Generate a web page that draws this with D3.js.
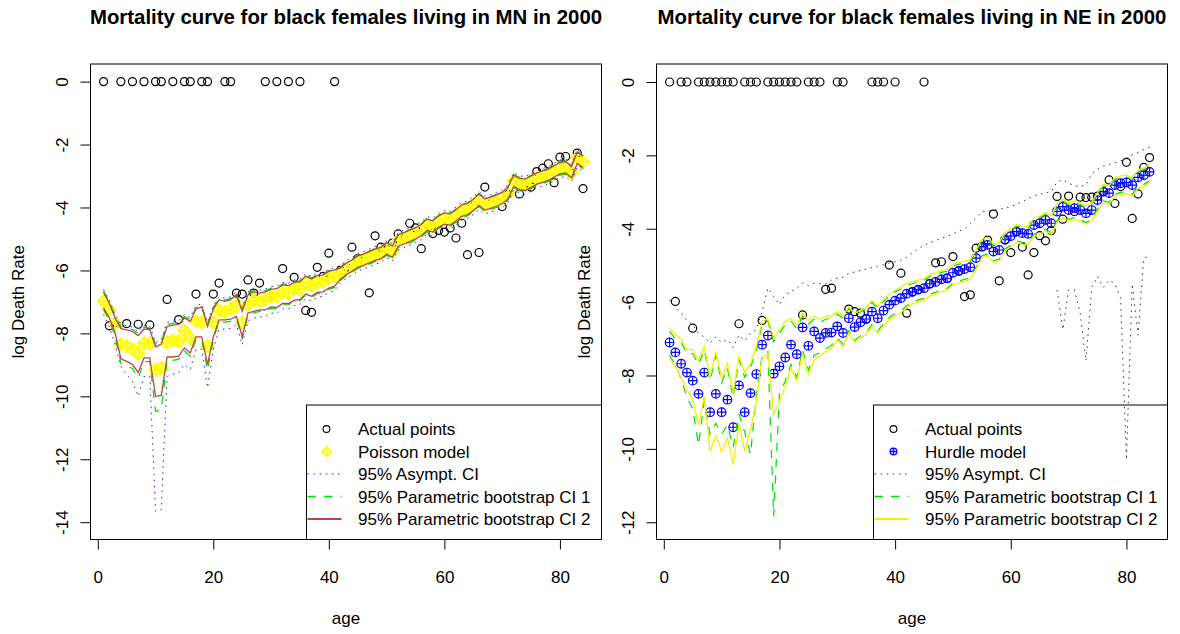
<!DOCTYPE html>
<html>
<head>
<meta charset="utf-8">
<script src="https://cdn.jsdelivr.net/npm/d3@7"></script>
<style>
  html, body { margin: 0; padding: 0; background: #ffffff; }
  svg { display: block; font-family: "Liberation Sans", Arial, Helvetica, sans-serif; }
</style>
</head>
<body>
<svg id="chart" width="1180" height="634"></svg>
<script>
// ---- ages (x categories) ----
const ages = [1,2,3,4,5,6,7,8,9,10,11,12,13,14,15,16,17,18,19,20,
  21,22,23,24,25,26,27,28,29,30,31,32,33,34,35,36,37,38,39,40,
  41,42,43,44,45,46,47,48,49,50,51,52,53,54,55,56,57,58,59,60,
  61,62,63,64,65,66,67,68,69,70,71,72,73,74,75,76,77,78,79,80,
  81,82,83,84];

const xTicks = [0, 20, 40, 60, 80];
const mnYTicks = [0, -2, -4, -6, -8, -10, -12, -14];
const neYTicks = [0, -2, -4, -6, -8, -10, -12];

// ---- Minnesota: observed log death rates (0 = no deaths recorded) ----
const mnActual = [0,-7.76,-7.67,0,-7.69,0,-7.71,0,-7.73,0,
  0,-6.92,0,-7.56,0,0,-6.75,0,0,-6.75,
  -6.40,0,0,-6.72,-6.75,-6.30,-6.72,-6.40,0,-6.83,
  0,-5.94,0,-6.22,0,-7.27,-7.33,-5.90,-6.19,-5.45,
  0,-6.00,-5.90,-5.26,-5.62,-5.68,-6.71,-4.90,-5.26,-5.32,
  -5.13,-4.84,-5.00,-4.50,-4.65,-5.31,-4.52,-4.83,-4.73,-4.78,
  -4.65,-4.97,-4.50,-5.50,-3.94,-5.43,-3.35,-3.88,-3.80,-3.97,
  -3.58,-3.16,-3.57,-3.30,-3.35,-2.86,-2.75,-2.61,-3.21,-2.40,
  -2.38,-2.91,-2.27,-3.40];

// Poisson model fit
const mnFit = [-6.98,-7.25,-7.69,-8.34,-8.41,-8.50,-8.64,-8.31,-8.33,-9.17,
  -9.10,-8.29,-8.22,-8.25,-7.91,-8.15,-7.62,-7.65,-8.41,-7.65,
  -7.27,-7.31,-7.23,-7.12,-7.65,-7.09,-6.95,-6.98,-6.93,-6.83,
  -6.83,-6.70,-6.72,-6.59,-6.59,-6.40,-6.49,-6.38,-6.35,-6.24,
  -6.19,-6.10,-5.95,-5.85,-5.72,-5.66,-5.58,-5.50,-5.45,-5.30,
  -5.40,-5.05,-4.98,-4.90,-4.82,-4.72,-4.55,-4.60,-4.45,-4.35,
  -4.38,-4.25,-4.10,-4.05,-3.92,-3.75,-3.90,-3.85,-3.78,-3.70,
  -3.55,-3.15,-3.25,-3.28,-3.18,-3.08,-3.02,-2.96,-2.85,-2.75,
  -2.72,-2.88,-2.42,-2.55];

// 95% asymptotic CI
const mnAsymHi = [-6.60,-6.95,-7.40,-7.70,-7.76,-7.80,-7.95,-7.74,-7.76,-8.30,
  -8.20,-7.65,-7.62,-7.60,-7.40,-7.50,-7.12,-7.06,-7.65,-7.12,
  -6.84,-6.88,-6.84,-6.68,-7.18,-6.69,-6.60,-6.63,-6.59,-6.52,
  -6.50,-6.38,-6.40,-6.30,-6.28,-6.10,-6.19,-6.08,-6.06,-5.96,
  -5.91,-5.84,-5.69,-5.59,-5.46,-5.40,-5.32,-5.24,-5.19,-5.04,
  -5.14,-4.79,-4.72,-4.64,-4.56,-4.46,-4.29,-4.34,-4.19,-4.09,
  -4.12,-3.99,-3.84,-3.79,-3.66,-3.49,-3.64,-3.59,-3.52,-3.44,
  -3.29,-2.89,-2.99,-3.02,-2.92,-2.82,-2.76,-2.70,-2.59,-2.49,
  -2.46,-2.62,-2.16,-2.29];
const mnAsymLo = [-7.40,-7.80,-8.35,-9.05,-9.30,-9.52,-10.00,-9.37,-9.37,-13.65,
  -13.60,-9.37,-9.30,-9.25,-8.99,-9.15,-8.52,-8.50,-9.73,-8.50,
  -7.88,-7.86,-7.84,-7.72,-8.36,-7.60,-7.52,-7.48,-7.46,-7.36,
  -7.36,-7.22,-7.22,-7.12,-7.08,-6.90,-6.97,-6.85,-6.82,-6.70,
  -6.64,-6.40,-6.25,-6.15,-6.02,-5.96,-5.88,-5.80,-5.75,-5.60,
  -5.70,-5.35,-5.28,-5.20,-5.12,-5.02,-4.85,-4.90,-4.75,-4.65,
  -4.68,-4.55,-4.40,-4.35,-4.22,-4.05,-4.20,-4.15,-4.08,-4.00,
  -3.85,-3.45,-3.55,-3.58,-3.48,-3.38,-3.32,-3.26,-3.15,-3.05,
  -3.02,-3.18,-2.72,-2.85];

// 95% parametric bootstrap CI 1
const mnBoot1Hi = [-6.65,-7.00,-7.45,-7.78,-7.83,-7.88,-8.00,-7.80,-7.83,-8.35,
  -8.26,-7.72,-7.68,-7.66,-7.46,-7.56,-7.18,-7.11,-7.72,-7.18,
  -6.89,-6.94,-6.89,-6.73,-7.25,-6.74,-6.64,-6.68,-6.64,-6.57,
  -6.55,-6.43,-6.45,-6.35,-6.33,-6.15,-6.24,-6.13,-6.11,-6.00,
  -5.95,-5.90,-5.75,-5.65,-5.52,-5.46,-5.38,-5.30,-5.25,-5.10,
  -5.20,-4.85,-4.78,-4.70,-4.62,-4.52,-4.35,-4.40,-4.25,-4.15,
  -4.18,-4.05,-3.90,-3.85,-3.72,-3.55,-3.70,-3.65,-3.58,-3.50,
  -3.35,-2.95,-3.05,-3.08,-2.98,-2.88,-2.82,-2.76,-2.65,-2.55,
  -2.52,-2.68,-2.22,-2.35];
const mnBoot1Lo = [-7.25,-7.60,-8.10,-8.95,-9.02,-9.12,-9.42,-8.90,-8.90,-10.48,
  -10.42,-8.86,-8.86,-8.82,-8.55,-8.72,-8.20,-8.20,-9.17,-8.20,
  -7.64,-7.64,-7.62,-7.52,-8.18,-7.40,-7.35,-7.30,-7.30,-7.20,
  -7.22,-7.09,-7.09,-6.99,-6.96,-6.79,-6.86,-6.74,-6.72,-6.60,
  -6.54,-6.32,-6.17,-6.07,-5.94,-5.88,-5.80,-5.72,-5.67,-5.52,
  -5.62,-5.27,-5.20,-5.12,-5.04,-4.94,-4.77,-4.82,-4.67,-4.57,
  -4.60,-4.47,-4.32,-4.27,-4.14,-3.97,-4.12,-4.07,-4.00,-3.92,
  -3.77,-3.37,-3.47,-3.50,-3.40,-3.30,-3.24,-3.18,-3.07,-2.97,
  -2.94,-3.10,-2.64,-2.77];

// 95% parametric bootstrap CI 2
const mnBoot2Hi = [-6.70,-7.04,-7.51,-7.85,-7.89,-7.94,-8.07,-7.86,-7.89,-8.43,
  -8.34,-7.78,-7.74,-7.72,-7.51,-7.62,-7.23,-7.16,-7.78,-7.23,
  -6.93,-6.98,-6.93,-6.77,-7.30,-6.78,-6.68,-6.72,-6.68,-6.60,
  -6.58,-6.46,-6.48,-6.38,-6.36,-6.18,-6.27,-6.16,-6.14,-6.03,
  -5.98,-5.92,-5.77,-5.67,-5.54,-5.48,-5.40,-5.32,-5.27,-5.12,
  -5.22,-4.87,-4.80,-4.72,-4.64,-4.54,-4.37,-4.42,-4.27,-4.17,
  -4.20,-4.07,-3.92,-3.87,-3.74,-3.57,-3.72,-3.67,-3.60,-3.52,
  -3.37,-2.97,-3.07,-3.10,-3.00,-2.90,-2.84,-2.78,-2.67,-2.57,
  -2.54,-2.70,-2.24,-2.37];
const mnBoot2Lo = [-7.19,-7.51,-7.99,-8.81,-8.89,-8.99,-9.24,-8.78,-8.78,-10.00,
  -9.97,-8.75,-8.75,-8.72,-8.46,-8.62,-8.11,-8.11,-8.99,-8.11,
  -7.57,-7.57,-7.55,-7.46,-8.10,-7.35,-7.30,-7.25,-7.25,-7.16,
  -7.18,-7.05,-7.05,-6.95,-6.92,-6.75,-6.82,-6.70,-6.68,-6.56,
  -6.50,-6.28,-6.13,-6.03,-5.90,-5.84,-5.76,-5.68,-5.63,-5.48,
  -5.58,-5.23,-5.16,-5.08,-5.00,-4.90,-4.73,-4.78,-4.63,-4.53,
  -4.56,-4.43,-4.28,-4.23,-4.10,-3.93,-4.08,-4.03,-3.96,-3.88,
  -3.73,-3.33,-3.43,-3.46,-3.36,-3.26,-3.20,-3.14,-3.03,-2.93,
  -2.90,-3.06,-2.60,-2.73];

// ---- Nebraska: observed log death rates (0 = no deaths recorded) ----
const neActual = [0,-5.98,0,0,-6.71,0,0,0,0,0,
  0,0,-6.59,0,0,0,-6.50,0,0,0,
  0,0,0,-6.35,0,0,0,-5.65,-5.62,0,
  0,-6.19,-6.26,-6.30,-6.46,0,0,0,-4.99,0,
  -5.21,-6.30,-5.72,-5.66,0,-5.50,-4.93,-4.90,-5.35,-4.76,
  -5.15,-5.85,-5.80,-4.53,-4.49,-4.31,-3.60,-5.42,-4.30,-4.65,
  -4.08,-4.50,-5.26,-4.65,-4.19,-4.33,-4.05,-3.12,-3.74,-3.11,
  -3.53,-3.14,-3.15,-3.14,-3.11,-2.99,-2.67,-3.31,-2.85,-2.19,
  -3.72,-3.05,-2.33,-2.06];

// Hurdle model fit
const neFit = [-7.10,-7.37,-7.68,-7.92,-8.14,-8.50,-7.92,-9.00,-8.50,-9.00,
  -8.66,-9.41,-8.27,-9.00,-8.48,-7.96,-7.16,-6.91,-7.95,-7.75,
  -7.51,-7.16,-7.42,-6.69,-7.19,-6.80,-6.98,-6.84,-6.83,-6.66,
  -6.84,-6.44,-6.68,-6.55,-6.46,-6.26,-6.44,-6.23,-6.07,-5.96,
  -5.89,-5.77,-5.72,-5.66,-5.62,-5.50,-5.45,-5.38,-5.35,-5.20,
  -5.15,-5.10,-5.05,-4.80,-4.49,-4.44,-4.62,-4.58,-4.30,-4.20,
  -4.08,-4.12,-4.14,-3.90,-3.85,-3.76,-3.85,-3.53,-3.40,-3.49,
  -3.44,-3.49,-3.58,-3.49,-3.22,-2.99,-3.03,-2.81,-2.76,-2.74,
  -2.81,-2.60,-2.54,-2.45];

// 95% asymptotic CI (lower bound undefined below age 68)
const neAsymHi = [-5.94,-6.15,-6.30,-6.50,-6.62,-6.85,-6.95,-7.12,-6.95,-7.10,
  -7.02,-7.24,-6.90,-7.05,-6.85,-6.75,-6.25,-5.62,-5.85,-6.07,
  -5.80,-5.71,-5.62,-5.48,-5.55,-5.48,-5.50,-5.50,-5.40,-5.35,
  -5.32,-5.21,-5.18,-5.14,-5.10,-5.06,-5.02,-4.98,-4.94,-4.90,
  -4.86,-4.78,-4.65,-4.55,-4.45,-4.38,-4.32,-4.26,-4.21,-4.14,
  -4.07,-4.00,-3.85,-3.70,-3.54,-3.52,-3.50,-3.47,-3.43,-3.40,
  -3.33,-3.26,-3.18,-3.10,-3.06,-3.02,-2.99,-2.72,-2.67,-2.76,
  -2.83,-2.85,-2.81,-2.50,-2.38,-2.30,-2.25,-2.20,-2.15,-2.08,
  -1.99,-1.92,-1.84,-1.78];
const neAsymLo = [null,null,null,null,null,null,null,null,null,null,
  null,null,null,null,null,null,null,null,null,null,
  null,null,null,null,null,null,null,null,null,null,
  null,null,null,null,null,null,null,null,null,null,
  null,null,null,null,null,null,null,null,null,null,
  null,null,null,null,null,null,null,null,null,null,
  null,null,null,null,null,null,null,-5.67,-6.75,-5.67,
  -5.67,-6.30,-7.60,-5.60,-5.30,-5.60,-5.40,-5.50,-5.90,-10.30,
  -5.50,-6.90,-4.80,-4.75];

// 95% parametric bootstrap CI 1
const neBoot1Hi = [-6.80,-7.00,-7.10,-7.40,-7.40,-7.70,-7.30,-8.15,-7.45,-8.20,
  -7.80,-8.60,-7.56,-8.05,-7.78,-7.32,-6.62,-6.52,-7.08,-6.85,
  -6.62,-6.52,-6.72,-6.38,-6.60,-6.46,-6.56,-6.46,-6.46,-6.33,
  -6.44,-6.17,-6.36,-6.27,-6.19,-6.01,-6.17,-5.98,-5.83,-5.72,
  -5.65,-5.53,-5.50,-5.45,-5.41,-5.30,-5.25,-5.19,-5.16,-5.02,
  -4.97,-4.93,-4.89,-4.63,-4.33,-4.28,-4.46,-4.42,-4.15,-4.05,
  -3.93,-3.97,-3.99,-3.75,-3.70,-3.61,-3.70,-3.38,-3.25,-3.34,
  -3.29,-3.34,-3.43,-3.34,-3.07,-2.84,-2.88,-2.66,-2.61,-2.59,
  -2.66,-2.45,-2.39,-2.30];
const neBoot1Lo = [-7.45,-7.70,-8.10,-8.60,-8.90,-9.89,-8.70,-9.60,-9.30,-9.60,
  -9.35,-9.95,-9.05,-9.55,-10.15,-8.55,-7.45,-7.35,-11.84,-8.50,
  -8.15,-7.70,-8.05,-7.30,-7.85,-7.45,-7.38,-7.28,-7.18,-6.98,
  -7.15,-6.78,-7.04,-6.92,-6.82,-6.61,-6.79,-6.58,-6.42,-6.31,
  -6.23,-6.10,-6.00,-5.94,-5.90,-5.78,-5.73,-5.66,-5.63,-5.48,
  -5.43,-5.38,-5.33,-5.05,-4.74,-4.69,-4.87,-4.83,-4.55,-4.45,
  -4.33,-4.37,-4.39,-4.15,-4.10,-4.01,-4.10,-3.78,-3.65,-3.74,
  -3.69,-3.74,-3.83,-3.74,-3.47,-3.24,-3.28,-3.06,-3.01,-2.99,
  -3.06,-2.85,-2.79,-2.70];

// 95% parametric bootstrap CI 2
const neBoot2Hi = [-6.71,-6.89,-7.00,-7.30,-7.28,-7.59,-7.21,-8.03,-7.35,-8.07,
  -7.66,-8.48,-7.46,-7.93,-7.66,-7.21,-6.53,-6.44,-6.98,-6.75,
  -6.53,-6.44,-6.62,-6.30,-6.50,-6.38,-6.48,-6.38,-6.38,-6.26,
  -6.38,-6.12,-6.30,-6.22,-6.14,-5.96,-6.12,-5.93,-5.78,-5.67,
  -5.60,-5.48,-5.45,-5.40,-5.36,-5.25,-5.20,-5.14,-5.11,-4.97,
  -4.92,-4.88,-4.84,-4.58,-4.28,-4.23,-4.41,-4.37,-4.10,-4.00,
  -3.88,-3.92,-3.94,-3.70,-3.65,-3.56,-3.65,-3.33,-3.20,-3.29,
  -3.24,-3.29,-3.38,-3.29,-3.02,-2.79,-2.83,-2.61,-2.56,-2.54,
  -2.61,-2.40,-2.34,-2.25];
const neBoot2Lo = [-7.53,-7.75,-8.05,-8.39,-8.64,-9.34,-8.57,-10.07,-9.64,-10.07,
  -9.70,-10.43,-9.30,-10.07,-9.48,-8.71,-7.53,-7.41,-9.07,-8.71,
  -8.30,-7.80,-8.16,-7.39,-7.98,-7.57,-7.46,-7.35,-7.25,-7.03,
  -7.22,-6.84,-7.10,-6.98,-6.88,-6.67,-6.85,-6.64,-6.48,-6.37,
  -6.29,-6.16,-6.05,-5.99,-5.95,-5.83,-5.78,-5.71,-5.68,-5.53,
  -5.48,-5.43,-5.38,-5.10,-4.79,-4.74,-4.92,-4.88,-4.60,-4.50,
  -4.38,-4.42,-4.44,-4.20,-4.15,-4.06,-4.15,-3.83,-3.70,-3.79,
  -3.74,-3.79,-3.88,-3.79,-3.52,-3.29,-3.33,-3.11,-3.06,-3.04,
  -3.11,-2.90,-2.84,-2.75];

// ---- drawing ----
const svg = d3.select("#chart");
const FONT = 17;
const DOT = "1.5,4.6";
const DASH = "8.5,8";

// point glyphs
function diamondPlus(cx, cy, s) {
  return `M${cx - s},${cy}L${cx},${cy - s}L${cx + s},${cy}L${cx},${cy + s}Z` +
         `M${cx - s},${cy}H${cx + s}M${cx},${cy - s}V${cy + s}`;
}
function crossIn(cx, cy, r) {
  return `M${cx - r},${cy}H${cx + r}M${cx},${cy - r}V${cy + r}`;
}
function drawGlyph(g, kind, cx, cy, color, size, sw) {
  if (kind === "circle") {
    g.append("circle").attr("cx", cx).attr("cy", cy).attr("r", size)
      .attr("fill", "none").attr("stroke", color).attr("stroke-width", sw);
  } else if (kind === "diamondPlus") {
    g.append("path").attr("d", diamondPlus(cx, cy, size))
      .attr("fill", "none").attr("stroke", color).attr("stroke-width", sw)
      .attr("stroke-linejoin", "miter");
  } else if (kind === "circlePlus") {
    g.append("circle").attr("cx", cx).attr("cy", cy).attr("r", size)
      .attr("fill", "none").attr("stroke", color).attr("stroke-width", sw);
    g.append("path").attr("d", crossIn(cx, cy, size))
      .attr("fill", "none").attr("stroke", color).attr("stroke-width", sw);
  }
}

function drawPanel(p, idx) {
  const g = svg.append("g");
  const x = d3.scaleLinear().domain(p.xDomain).range(p.xRange);
  const y = d3.scaleLinear().domain(p.yDomain).range([64, 539.5]);
  const [x0, x1] = p.xRange;

  // title
  g.append("text")
    .attr("x", (x0 + x1) / 2).attr("y", 24)
    .attr("text-anchor", "middle")
    .attr("font-weight", "bold").attr("font-size", 20.4)
    .text(p.title);

  // axes
  const xAxis = d3.axisBottom(x).tickValues(xTicks).tickSize(10).tickFormat(d => String(d));
  const gx = g.append("g").attr("transform", "translate(0,539.5)").call(xAxis);
  gx.select(".domain").attr("d", `M${x(xTicks[0])},0H${x(xTicks[xTicks.length - 1])}`);
  gx.selectAll("text").attr("y", 43.5).attr("dy", 0)
    .attr("font-size", FONT).attr("font-family", null).attr("fill", "#000");

  const yAxis = d3.axisLeft(y).tickValues(p.yTicks).tickSize(10).tickFormat(d => String(d));
  const gy = g.append("g").attr("transform", `translate(${x0},0)`).call(yAxis);
  gy.select(".domain").attr("d", `M0,${y(p.yTicks[0])}V${y(p.yTicks[p.yTicks.length - 1])}`);
  gy.selectAll("text")
    .attr("x", null).attr("dy", null)
    .attr("text-anchor", "middle")
    .attr("transform", "translate(-23,0) rotate(-90)")
    .attr("font-size", FONT).attr("font-family", null).attr("fill", "#000");
  g.selectAll(".tick line").attr("stroke", "#000");
  g.selectAll(".domain").attr("stroke", "#000");

  // axis titles
  g.append("text")
    .attr("x", (x0 + x1) / 2).attr("y", 624)
    .attr("text-anchor", "middle").attr("font-size", FONT)
    .text("age");
  g.append("text")
    .attr("transform", `translate(${x0 - 67},${(64 + 539.5) / 2}) rotate(-90)`)
    .attr("text-anchor", "middle").attr("font-size", FONT)
    .text("log Death Rate");

  // clip to plot region
  const clipId = "clip" + idx;
  svg.append("clipPath").attr("id", clipId)
    .append("rect").attr("x", x0).attr("y", 64).attr("width", x1 - x0).attr("height", 539.5 - 64);
  const plot = g.append("g").attr("clip-path", `url(#${clipId})`);

  // observed points
  ages.forEach((a, i) => {
    const v = p.actual[i];
    if (v !== null) drawGlyph(plot, "circle", x(a), y(v), "#000", 4, 1.2);
  });
  // fitted points
  ages.forEach((a, i) => {
    drawGlyph(plot, p.fitGlyph, x(a), y(p.fit[i]), p.fitColor, p.fitSize, p.fitStroke);
  });

  // interval lines
  const line = d3.line()
    .defined(d => d[1] !== null)
    .x(d => x(d[0])).y(d => y(d[1]));
  p.bands.forEach(b => {
    [b.hi, b.lo].forEach(arr => {
      plot.append("path")
        .datum(ages.map((a, i) => [a, arr[i]]))
        .attr("d", line)
        .attr("fill", "none")
        .attr("stroke", b.color)
        .attr("stroke-width", b.width)
        .attr("stroke-dasharray", b.dash);
    });
  });

  // plot box
  g.append("rect")
    .attr("x", x0).attr("y", 64).attr("width", x1 - x0).attr("height", 539.5 - 64)
    .attr("fill", "none").attr("stroke", "#000").attr("stroke-width", 1);

  // legend
  const lg = g.append("g");
  const lx = p.legendX;
  lg.append("rect")
    .attr("x", lx).attr("y", 405).attr("width", x1 - lx).attr("height", 539.5 - 405)
    .attr("fill", "none").attr("stroke", "#000").attr("stroke-width", 1);
  const rows = [429, 451.5, 474, 496.5, 519];
  const symX = lx + 20;
  const txtX = lx + 51.5;
  const entries = [
    { label: "Actual points", glyph: "circle", color: "#000", size: 3.4, sw: 1.1 },
    { label: p.fitLabel, glyph: p.fitGlyph, color: p.fitColor, size: p.legendFitSize, sw: 1.3 }
  ].concat(p.bands.map(b => ({ label: b.label, band: b })));
  entries.forEach((e, i) => {
    const cy = rows[i];
    if (e.band) {
      lg.append("line")
        .attr("x1", lx + 1).attr("x2", lx + 35).attr("y1", cy).attr("y2", cy)
        .attr("stroke", e.band.color).attr("stroke-width", e.band.legendWidth)
        .attr("stroke-dasharray", e.band.dash);
    } else {
      drawGlyph(lg, e.glyph, symX, cy, e.color, e.size, e.sw);
    }
    lg.append("text")
      .attr("x", txtX).attr("y", cy + 6)
      .attr("font-size", FONT)
      .text(e.label);
  });
}

drawPanel({
  title: "Mortality curve for black females living in MN in 2000",
  xDomain: [-1.26, 87.2], xRange: [90.5, 601.5],
  yDomain: [0.56, -14.55], yTicks: mnYTicks,
  actual: mnActual, fit: mnFit,
  fitGlyph: "diamondPlus", fitColor: "#ffff00", fitSize: 6, fitStroke: 2, legendFitSize: 5,
  fitLabel: "Poisson model",
  legendX: 306.5,
  bands: [
    { label: "95% Asympt. CI", hi: mnAsymHi, lo: mnAsymLo, color: "#2020ff", width: 1, legendWidth: 1, dash: DOT },
    { label: "95% Parametric bootstrap CI 1", hi: mnBoot1Hi, lo: mnBoot1Lo, color: "#00e000", width: 1.2, legendWidth: 1.4, dash: DASH },
    { label: "95% Parametric bootstrap CI 2", hi: mnBoot2Hi, lo: mnBoot2Lo, color: "#b84545", width: 1.3, legendWidth: 2, dash: null }
  ]
}, 0);

drawPanel({
  title: "Mortality curve for black females living in NE in 2000",
  xDomain: [-1.26, 87.1], xRange: [656.5, 1167.5],
  yDomain: [0.49, -12.47], yTicks: neYTicks,
  actual: neActual, fit: neFit,
  fitGlyph: "circlePlus", fitColor: "#0000ff", fitSize: 4.3, fitStroke: 1.2, legendFitSize: 3.4,
  fitLabel: "Hurdle model",
  legendX: 873.5,
  bands: [
    { label: "95% Asympt. CI", hi: neAsymHi, lo: neAsymLo, color: "#333333", width: 1, legendWidth: 1, dash: DOT },
    { label: "95% Parametric bootstrap CI 1", hi: neBoot1Hi, lo: neBoot1Lo, color: "#00e000", width: 1.2, legendWidth: 1.4, dash: DASH },
    { label: "95% Parametric bootstrap CI 2", hi: neBoot2Hi, lo: neBoot2Lo, color: "#f2f200", width: 1.3, legendWidth: 2, dash: null }
  ]
}, 1);
</script>
</body>
</html>
